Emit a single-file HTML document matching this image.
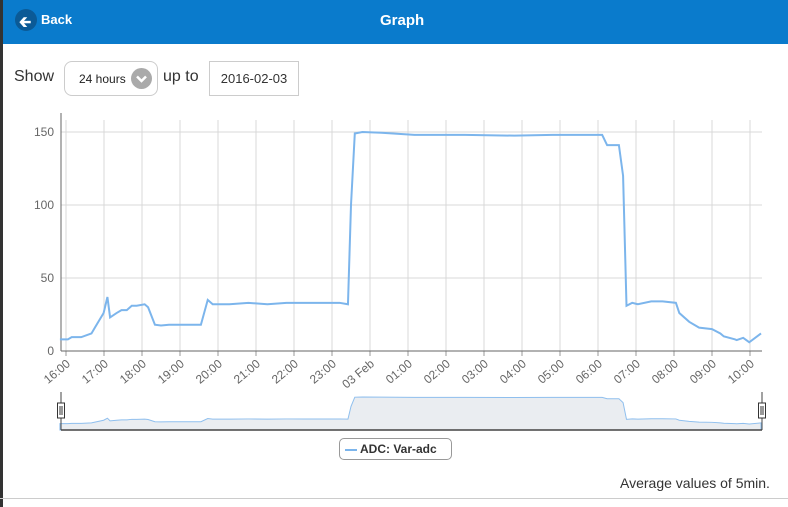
<!DOCTYPE html>
<html><head><meta charset="utf-8"><style>
body{margin:0;width:788px;height:507px;overflow:hidden;background:#fff;font-family:"Liberation Sans",sans-serif;position:relative}
#hdr{position:absolute;left:0;top:0;width:788px;height:44px;background:#0a7bcc}
#lb{position:absolute;left:0;top:0;width:3px;height:507px;background:#333}
.t{position:absolute;color:#fff;font-weight:bold}
</style></head><body>
<div id="hdr"></div>
<div id="lb"></div>
<div style="position:absolute;left:15px;top:9px;">
 <div style="width:22px;height:22px;border-radius:50%;background:#0b5a96;position:absolute;left:0;top:0"><div style="position:absolute;left:4px;top:3px;color:#fff;font-size:15px;font-weight:bold">&#129136;</div></div>
 <span class="t" style="left:26px;top:3px;font-size:13px">Back</span></div>
<div class="t" style="left:380px;top:12px;font-size:15px">Graph</div>
<div style="position:absolute;left:14px;top:68px;font-size:16px;color:#333">Show</div>
<div style="position:absolute;left:64px;top:61px;width:92px;height:33px;border:1px solid #ccc;border-radius:8px;font-size:12px;color:#222">
 <span style="position:absolute;left:14px;top:10px">24 hours</span>
 <svg style="position:absolute;left:66px;top:6px" width="21" height="21"><circle cx="10.5" cy="10.5" r="10.5" fill="#aaa"/><polyline points="6,8.5 10.5,13 15,8.5" fill="none" stroke="#fff" stroke-width="2.5"/></svg></div>
<div style="position:absolute;left:163px;top:68px;font-size:16px;color:#333">up to</div>
<div style="position:absolute;left:209px;top:61px;width:88px;height:33px;border:1px solid #ccc;font-size:13px;color:#333;line-height:33px;text-align:center">2016-02-03</div>
<svg width="788" height="507" style="position:absolute;left:0;top:0" id="svg"></svg>
<div style="position:absolute;left:339px;top:438px;width:111px;height:20px;border:1px solid #999;border-radius:5px;font-size:12px;font-weight:bold;color:#333;line-height:20px">
 <span style="display:inline-block;width:12px;height:2px;background:#7cb5ec;vertical-align:middle;margin:0 3px 0 5px"></span>ADC: Var-adc</div>
<div style="position:absolute;left:620px;top:475px;font-size:14px;color:#333">Average values of 5min.</div>
<div style="position:absolute;left:0;top:498px;width:788px;height:1px;background:#ccc"></div>
<script>
const hours=[-0.16,0.05,0.15,0.4,0.67,0.76,0.99,1.09,1.16,1.33,1.46,1.6,1.73,1.86,2.07,2.16,2.34,2.5,2.71,3.3,3.55,3.73,3.86,4.3,4.8,5.3,5.8,6.3,6.8,7.2,7.42,7.5,7.6,7.8,8.3,9.17,10.5,11.8,12.8,13.6,14.11,14.24,14.55,14.66,14.75,14.9,15.05,15.4,15.7,16.05,16.14,16.4,16.66,17.0,17.22,17.31,17.6,17.65,17.82,17.98,18.29];
const values=[8,8,9.5,9.5,12,16,26,37,23,26,28,28,31,31,32,30,18,17.5,18,18,18,35,32,32,33,32,33,33,33,33,32,100,149,150,149.5,148,148,147.5,148,148,148,141,141,120,31,33,32,34,34,33,26,20,16,15,12,10,8,7.5,9,6,12];
const yTicks=[0,50,100,150];
const xTickLabels=["16:00","17:00","18:00","19:00","20:00","21:00","22:00","23:00","03 Feb","01:00","02:00","03:00","04:00","05:00","06:00","07:00","08:00","09:00","10:00"];
const svg=document.getElementById('svg');const NS='http://www.w3.org/2000/svg';
const X=h=>66+h*38, Y=v=>351-v*73/50;
const NY=v=>424-(v-6)/144*27;
function mk(t,a,p){const e=document.createElementNS(NS,t);for(const k in a)e.setAttribute(k,a[k]);(p||svg).appendChild(e);return e;}
xTickLabels.forEach((l,i)=>{const x=X(i);
 const g=mk('line',{x1:x,x2:x,y1:120,y2:351,stroke:'#d8d8d8'});
 mk('line',{x1:x,x2:x,y1:351,y2:356,stroke:'#999'});
 const t=mk('text',{x:x+5,y:365,'font-size':12,fill:'#666','text-anchor':'end',transform:`rotate(-40 ${x+5} 365)`});t.textContent=l;
 });
yTicks.forEach(v=>{const y=Y(v);
 const g=mk('line',{x1:61,x2:762,y1:y,y2:y,stroke:'#d8d8d8'});
 const t=mk('text',{x:54,y:y+4,'font-size':12,fill:'#666','text-anchor':'end'});t.textContent=v;
 });
mk('line',{x1:61,x2:61,y1:113,y2:351,stroke:'#666'});
mk('line',{x1:61,x2:762,y1:351,y2:351,stroke:'#666'});
const pts=hours.map((h,i)=>X(h)+','+Y(values[i])).join(' ');
const ln=mk('polyline',{points:pts,fill:'none',stroke:'#7cb5ec','stroke-width':2});

const npts=hours.map((h,i)=>X(h)+','+NY(values[i])).join(' ');
const na=mk('polygon',{points:X(hours[0])+',430 '+npts+' '+X(hours[hours.length-1])+',430',fill:'#eaedf1',stroke:'#8fbfee','stroke-width':1});

mk('line',{x1:61,x2:762,y1:430,y2:430,stroke:'#444','stroke-width':1.5});
[61,762].forEach(x=>{mk('line',{x1:x,x2:x,y1:392,y2:430,stroke:'#444'});
 const h=mk('rect',{x:x-3.5,y:403,width:7,height:15,fill:'#fff',stroke:'#333'});
 
 mk('line',{x1:x-1,x2:x-1,y1:406,y2:415,stroke:'#333'});mk('line',{x1:x+1,x2:x+1,y1:406,y2:415,stroke:'#333'});});
</script>
</body></html>
